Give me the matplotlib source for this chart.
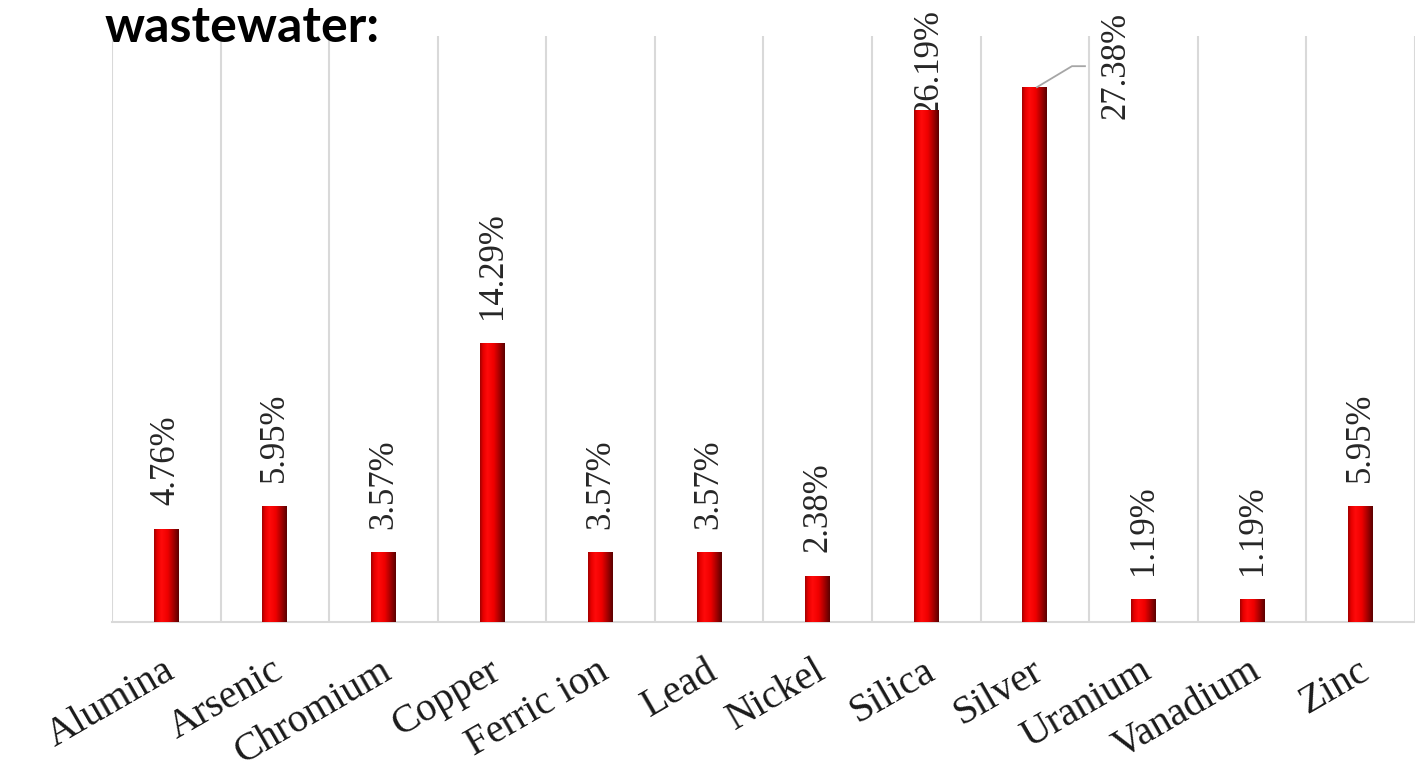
import numpy as np
import matplotlib
matplotlib.use("Agg")
import matplotlib.pyplot as plt
import matplotlib.transforms as mtransforms
from matplotlib.colors import LinearSegmentedColormap

categories = ["Alumina", "Arsenic", "Chromium", "Copper", "Ferric ion", "Lead",
              "Nickel", "Silica", "Silver", "Uranium", "Vanadium", "Zinc"]
values = [4.76, 5.95, 3.57, 14.29, 3.57, 3.57, 2.38, 26.19, 27.38, 1.19, 1.19, 5.95]
labels = ["4.76%", "5.95%", "3.57%", "14.29%", "3.57%", "3.57%", "2.38%",
          "26.19%", "27.38%", "1.19%", "1.19%", "5.95%"]
title = "wastewater:"

W, H = 1415, 776
fig = plt.figure(figsize=(W / 100, H / 100), dpi=100)
ax = fig.add_axes([112 / W, (H - 622) / H, (W - 112) / W, (622 - 36) / H])

x = np.arange(len(categories))
bars = ax.bar(x, values, width=0.23, color="#e00000", zorder=3)

ax.set_xlim(-0.5, len(categories) - 0.5)
ax.set_ylim(0, 30)

# gradient fill for bars
cmap = LinearSegmentedColormap.from_list(
    "barshade",
    [(0.0, "#a00000"), (0.12, "#e80000"), (0.3, "#ff0a0a"), (0.55, "#f00000"),
     (0.8, "#a00000"), (1.0, "#5a0000")])
grad = np.linspace(0, 1, 64).reshape(1, -1)
for b in bars:
    bx, by, bw, bh = b.get_x(), b.get_y(), b.get_width(), b.get_height()
    im = ax.imshow(grad, cmap=cmap, extent=(bx, bx + bw, by, by + bh),
                   aspect="auto", zorder=4, interpolation="bicubic")
    im.set_clip_path(b)

# gridlines at category boundaries
for b in np.arange(-0.5, len(categories) + 0.5, 1.0):
    ax.axvline(b, color="#d9d9d9", lw=1.5, zorder=1)

for s in ["top", "right", "left"]:
    ax.spines[s].set_visible(False)
ax.spines["bottom"].set_color("#d9d9d9")
ax.spines["bottom"].set_linewidth(1.5)
ax.set_yticks([])
ax.set_xticks(x)
ax.set_xticklabels(categories, rotation=30, ha="right", rotation_mode="anchor",
                   fontsize=29, family="Liberation Serif", color="#1a1a1a")
ax.tick_params(axis="x", length=0, pad=22)
shift = mtransforms.ScaledTranslation(-4 / 100, 0, fig.dpi_scale_trans)
for t in ax.get_xticklabels():
    t.set_transform(t.get_transform() + shift)

lab_kw = dict(rotation=90, fontsize=25, family="Liberation Serif", color="#262626",
              annotation_clip=False)
for i, (v, lab) in enumerate(zip(values, labels)):
    if i == 7:
        # label pushed down to fit in chart area (overlaps bar top)
        ax.annotate(lab, xy=(x[i], v), xytext=(2, -4), textcoords="offset points",
                    ha="center", va="bottom", **lab_kw)
    elif i == 8:
        ax.annotate(lab, xy=(x[i], v), xytext=(58, -23), textcoords="offset points",
                    ha="center", va="bottom", **lab_kw)
        # leader line
        fig.canvas.draw()
        px, py = ax.transData.transform((x[i], v))
        pts = np.array([[px + 2, py], [px + 37, py + 21], [px + 50, py + 21]])
        fpts = fig.transFigure.inverted().transform(pts)
        fig.add_artist(plt.Line2D(fpts[:, 0], fpts[:, 1], color="#a6a6a6", lw=1.3,
                                  transform=fig.transFigure))
    else:
        ax.annotate(lab, xy=(x[i], v), xytext=(0, 17), textcoords="offset points",
                    ha="center", va="bottom", **lab_kw)

fig.text(105 / W, 1 - 42 / H, title, fontsize=36, fontweight="bold", family="Lato",
         ha="left", va="baseline", color="black")

fig.savefig("out.png", dpi=100)
